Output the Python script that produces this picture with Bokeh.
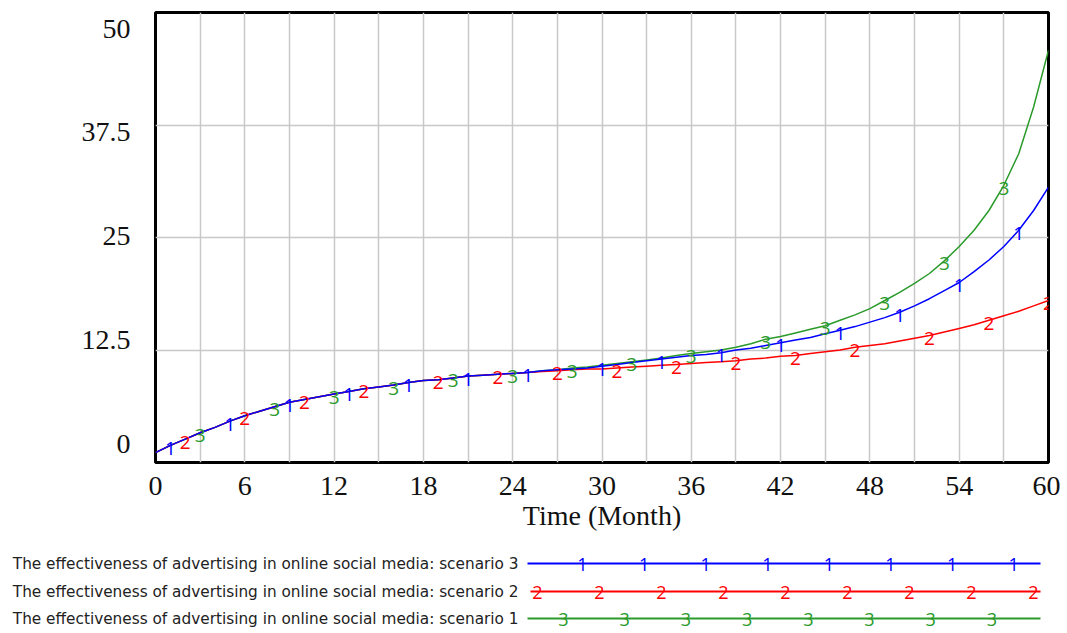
import numpy as np
from bokeh.plotting import figure
from bokeh.models import ColumnDataSource, Range1d, FixedTicker, LinearAxis
from bokeh.layouts import column, row
from bokeh.core.properties import value
from bokeh.embed import file_html
from bokeh.resources import INLINE

# ---------------- data ----------------
months = list(range(61))

# scenario 3 (blue, marker "1")
scenario3 = [1.1, 1.9, 2.6, 3.3, 3.9, 4.6, 5.2, 5.7, 6.2, 6.7,
             7.0, 7.3, 7.6, 7.9, 8.2, 8.4, 8.6, 8.9, 9.1, 9.2,
             9.4, 9.6, 9.7, 9.8, 9.9, 10.0, 10.2, 10.3, 10.4, 10.5,
             10.7, 10.9, 11.1, 11.3, 11.5, 11.7, 11.9, 12.0, 12.2, 12.5,
             12.7, 13.0, 13.3, 13.6, 13.9, 14.3, 14.7, 15.1, 15.6, 16.1,
             16.7, 17.4, 18.2, 19.1, 20.0, 21.2, 22.5, 24.0, 25.8, 28.0,
             30.6]

# scenario 2 (red, marker "2")
scenario2 = [1.1, 1.9, 2.6, 3.3, 3.9, 4.6, 5.2, 5.7, 6.2, 6.7,
             7.0, 7.3, 7.6, 7.9, 8.2, 8.4, 8.6, 8.9, 9.1, 9.2,
             9.4, 9.6, 9.7, 9.8, 9.9, 10.0, 10.1, 10.2, 10.3, 10.4,
             10.4, 10.5, 10.6, 10.7, 10.8, 10.9, 11.0, 11.1, 11.2, 11.3,
             11.5, 11.6, 11.8, 11.9, 12.1, 12.3, 12.5, 12.8, 13.0, 13.2,
             13.5, 13.8, 14.1, 14.5, 14.9, 15.3, 15.8, 16.3, 16.8, 17.4,
             18.0]

# scenario 1 (green, marker "3")
scenario1 = [1.1, 1.9, 2.6, 3.3, 3.9, 4.6, 5.2, 5.7, 6.2, 6.7,
             7.0, 7.3, 7.6, 7.9, 8.2, 8.4, 8.6, 8.9, 9.1, 9.2,
             9.4, 9.6, 9.7, 9.8, 9.9, 10.0, 10.2, 10.3, 10.5, 10.6,
             10.8, 11.0, 11.2, 11.4, 11.6, 11.9, 12.1, 12.3, 12.5, 12.8,
             13.2, 13.7, 14.0, 14.4, 14.8, 15.2, 15.8, 16.4, 17.1, 18.0,
             18.9, 19.9, 21.0, 22.4, 24.0, 25.8, 28.0, 30.8, 34.3, 39.5,
             45.8]

marks3 = [1, 5, 9, 13, 17, 21, 25, 30, 34, 38, 42, 46, 50, 54, 58]
marks2 = [2, 6, 10, 14, 19, 23, 27, 31, 35, 39, 43, 47, 52, 56, 60]
marks1 = [3, 8, 12, 16, 20, 24, 28, 32, 36, 41, 45, 49, 53, 57]

x_ticks = [0, 6, 12, 18, 24, 30, 36, 42, 48, 54, 60]
x_minor_ticks = [3, 9, 15, 21, 27, 33, 39, 45, 51, 57]
y_ticks = [0, 12.5, 25, 37.5, 50]
y_tick_labels = ["0", "12.5", "25", "37.5", "50"]

x_label = "Time (Month)"
legend_names = [
    "The effectiveness of advertising in online social media: scenario 3",
    "The effectiveness of advertising in online social media: scenario 2",
    "The effectiveness of advertising in online social media: scenario 1",
]
marker_texts = ["1", "2", "3"]

# ---------------- styles ----------------
BLUE = "#0000ff"
RED = "#ff0000"
GREEN = "#2a9a2a"
GRID = "#c8c8c8"
SERIF = "Liberation Serif"
SANS = "Open Sans"
LEG_FONT = "DejaVu Sans"

W = 1060
MAIN_H = 543
LEG_H = 88
FRAME_TOP = 12
FRAME_H = 450
FRAME_L = 155
FRAME_R = 1048

p = figure(width=W, height=MAIN_H, output_backend="svg", toolbar_location=None,
           x_range=Range1d(0, 60), y_range=Range1d(0, 50),
           min_border_left=FRAME_L, min_border_right=W - FRAME_R, min_border_top=FRAME_TOP,
           min_border_bottom=MAIN_H - FRAME_TOP - FRAME_H)
p.background_fill_color = "white"
p.border_fill_color = "white"
p.outline_line_color = "black"
p.outline_line_width = 3

p.xaxis.ticker = FixedTicker(ticks=x_ticks, minor_ticks=x_minor_ticks)
p.yaxis.visible = False
p.ygrid.ticker = FixedTicker(ticks=y_ticks)

# label axis: Vensim spreads the value labels inside the frame height
p.extra_y_ranges = {"lab": Range1d(-2.289, 51.928)}
yax = LinearAxis(y_range_name="lab", ticker=FixedTicker(ticks=y_ticks),
                 major_label_overrides={t: l for t, l in zip(y_ticks, y_tick_labels)})
p.add_layout(yax, "left")

for ax in (p.xaxis[0], yax):
    ax.axis_line_color = None
    ax.major_tick_line_color = None
    ax.minor_tick_line_color = None
    ax.major_tick_out = 0
    ax.minor_tick_out = 0
    ax.major_tick_in = 0
    ax.minor_tick_in = 0
    ax.major_label_text_font = SERIF
    ax.major_label_text_font_size = "28px"
    ax.major_label_text_color = "#111111"
yax.major_label_standoff = 25
p.xaxis.major_label_standoff = 14
p.xaxis.axis_label = x_label
p.xaxis.axis_label_text_font = SERIF
p.xaxis.axis_label_text_font_size = "28px"
p.xaxis.axis_label_text_font_style = "normal"
p.xaxis.axis_label_text_color = "#111111"
p.xaxis.axis_label_standoff = 2

p.xgrid.grid_line_color = GRID
p.xgrid.grid_line_width = 1.5
p.xgrid.minor_grid_line_color = GRID
p.xgrid.minor_grid_line_width = 1.5
p.ygrid.grid_line_color = GRID
p.ygrid.grid_line_width = 1.5

series = [(scenario1, marks1, GREEN, "3"), (scenario2, marks2, RED, "2"), (scenario3, marks3, BLUE, "1")]
for vals, marks, color, lab in series:
    p.line(months, vals, line_color=color, line_width=1.5)
for vals, marks, color, lab in series:
    src = ColumnDataSource(dict(x=marks, y=[vals[m] for m in marks], t=[lab] * len(marks)))
    p.text(x="x", y="y", text="t", source=src, text_color=color,
           text_font=value(SANS), text_font_size="19px",
           text_align="center", text_baseline="middle", y_offset=3)

# ---------------- legend ----------------
# a full-width frame, x units = page pixels
lg = figure(width=W, height=LEG_H, output_backend="svg", toolbar_location=None,
            x_range=Range1d(0, W), y_range=Range1d(LEG_H, 0),
            min_border=0, min_border_left=0, min_border_right=0,
            min_border_top=0, min_border_bottom=0)
lg.axis.visible = False
lg.grid.visible = False
lg.outline_line_color = None

rows_y = [20, 48, 75]
line_x0 = [527, 530, 527]
line_x1 = 1040
mk_start = [582, 537, 563]
mk_step = [61.6, 62.0, 61.2]
mk_count = [8, 9, 8]
colors = [BLUE, RED, GREEN]
for i in range(3):
    y = rows_y[i]
    lg.text(x=[518], y=[y], text=[legend_names[i]], text_font=value(LEG_FONT),
            text_font_size="15.3px", text_color="#222222",
            text_align="right", text_baseline="middle")
    lg.line([line_x0[i], line_x1], [y, y], line_color=colors[i], line_width=2)
    xs = [mk_start[i] + mk_step[i] * k for k in range(mk_count[i])]
    lg.text(x=xs, y=[y] * len(xs), text=[marker_texts[i]] * len(xs),
            text_font=value(SANS), text_font_size="18px", text_color=colors[i],
            text_align="center", text_baseline="middle", y_offset=1)

layout = column(p, row(lg), spacing=0)
open("out.html", "w").write(file_html(layout, INLINE))
